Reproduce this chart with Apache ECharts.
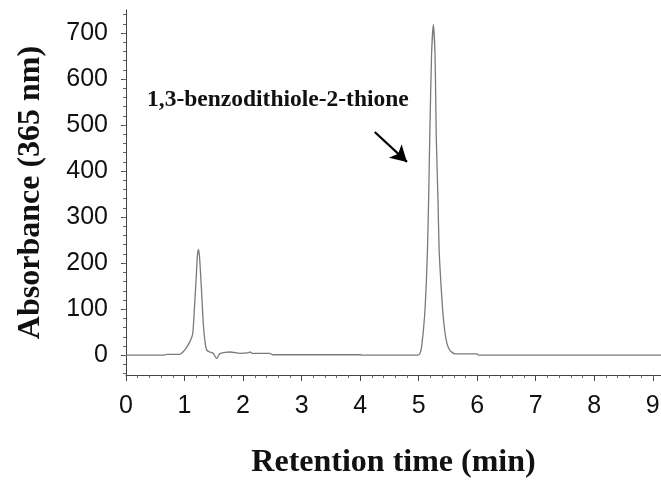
<!DOCTYPE html>
<html>
<head>
<meta charset="utf-8">
<script src="https://cdn.jsdelivr.net/npm/echarts@6/dist/echarts.min.js"></script>
<style>html,body{margin:0;padding:0;background:#fff}#c{width:661px;height:481px}</style>
</head>
<body>
<div id="c"></div>
<script>
// Retention time (min)
const times = [0.00,0.65,0.70,0.92,0.98,1.03,1.09,1.14,1.17,1.20,1.22,1.24,1.26,1.29,1.32,1.35,1.38,1.43,1.49,1.52,1.55,1.60,1.69,1.78,1.95,2.08,2.12,2.16,2.46,2.50,4.00,4.03,4.98,5.02,5.05,5.10,5.13,5.15,5.17,5.19,5.22,5.25,5.28,5.30,5.33,5.35,5.38,5.42,5.47,5.53,5.62,6.00,6.02,9.14];
// Absorbance (365 nm)
const absorbance = [0,0,2,2,8,16,29,47,105,170,217,230,207,141,69,29,11,7,4,-2,-7,3,6,7,4,5,7,4,4,1,1,0,0,3,18,83,156,228,337,478,652,718,652,478,337,228,156,83,33,11,3,3,0,0];
const xTickLabels = [0,1,2,3,4,5,6,7,8,9];
const xMinorTicks = [0.2,0.4,0.6,0.8,1.2,1.4,1.6,1.8,2.2,2.4,2.6,2.8,3.2,3.4,3.6,3.8,4.2,4.4,4.6,4.8,5.2,5.4,5.6,5.8,6.2,6.4,6.6,6.8,7.2,7.4,7.6,7.8,8.2,8.4,8.6,8.8,9.0];
const yTickLabels = [0,100,200,300,400,500,600,700];
const yMinorTicks = [-40,-20,0,20,40,60,80,100,120,140,160,180,200,220,240,260,280,300,320,340,360,380,400,420,440,460,480,500,520,540,560,580,600,620,640,660,680,700,720,740];
const annotationText = '1,3-benzodithiole-2-thione';
const arrowFrom = [4.25, 485];
const arrowTo = [4.80, 420];

const chart = echarts.init(document.getElementById('c'), null, {renderer: 'canvas'});
const X_MIN = 0, X_MAX = 9.14, Y_MIN = -43, Y_MAX = 750;
const labelFont = {fontFamily: 'Liberation Sans, Arial, sans-serif', fontSize: 25, color: '#111'};
const titleFont = {fontFamily: 'Liberation Serif, Times New Roman, serif', fontSize: 32, fontWeight: 'bold', color: '#111'};

chart.setOption({
  animation: false,
  backgroundColor: '#fff',
  grid: {left: 126, right: 0, top: 10, bottom: 106, containLabel: false, outerBoundsMode: 'none'},
  xAxis: [{
    type: 'value', min: X_MIN, max: X_MAX,
    name: 'Retention time (min)', nameLocation: 'middle', nameGap: 72,
    nameTextStyle: titleFont,
    axisLine: {show: true, onZero: false, lineStyle: {color: '#444', width: 1}},
    axisTick: {show: true, length: 6, customValues: xTickLabels, lineStyle: {color: '#444'}},
    axisLabel: {show: true, customValues: xTickLabels, margin: 19, ...labelFont},
    splitLine: {show: false}
  }, {
    type: 'value', min: X_MIN, max: X_MAX, position: 'bottom',
    axisLine: {show: false, onZero: false},
    axisTick: {show: true, length: 3, customValues: xMinorTicks, lineStyle: {color: '#666'}},
    axisLabel: {show: false},
    splitLine: {show: false}
  }],
  yAxis: [{
    type: 'value', min: Y_MIN, max: Y_MAX,
    name: 'Absorbance (365 nm)', nameLocation: 'middle', nameGap: 79, nameRotate: 90,
    nameTextStyle: titleFont,
    axisLine: {show: true, onZero: false, lineStyle: {color: '#444', width: 1}},
    axisTick: {show: true, length: 5, customValues: yTickLabels, lineStyle: {color: '#444'}},
    axisLabel: {show: true, customValues: yTickLabels, margin: 18, ...labelFont},
    splitLine: {show: false}
  }, {
    type: 'value', min: Y_MIN, max: Y_MAX, position: 'left',
    axisLine: {show: false, onZero: false},
    axisTick: {show: true, length: 3, customValues: yMinorTicks, lineStyle: {color: '#666'}},
    axisLabel: {show: false},
    splitLine: {show: false}
  }],
  graphic: [{
    type: 'text', left: 147, top: 88,
    style: {text: annotationText, font: 'bold 23.5px "Liberation Serif", "Times New Roman", serif', fill: '#111'}
  }],
  series: [{
    type: 'line',
    xAxisIndex: 0, yAxisIndex: 0,
    data: times.map((t, i) => [t, absorbance[i]]),
    showSymbol: false, symbol: 'none',
    lineStyle: {color: '#7a7a7a', width: 1.3},
    smooth: 0.2,
    markLine: {
      silent: true,
      symbol: ['none', 'arrow'], symbolSize: [14, 16],
      label: {show: false},
      lineStyle: {color: '#000', width: 2.2, type: 'solid'},
      data: [[{coord: arrowFrom}, {coord: arrowTo}]]
    }
  }]
});
</script>
</body>
</html>
